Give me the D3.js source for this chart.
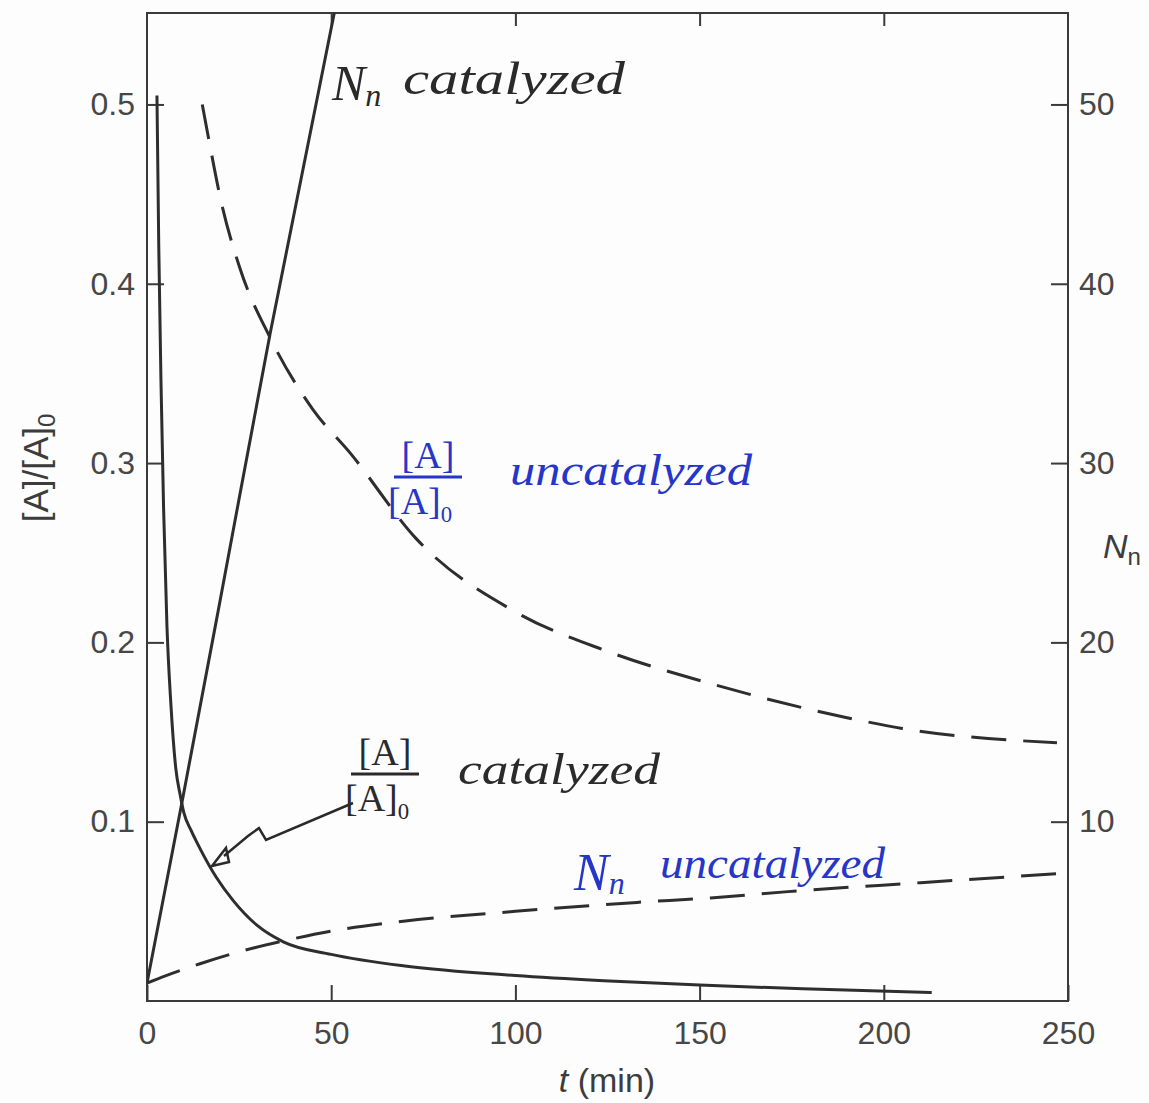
<!DOCTYPE html>
<html>
<head>
<meta charset="utf-8">
<script src="https://cdn.jsdelivr.net/npm/d3@7"></script>
<style>
  html, body { margin: 0; padding: 0; background: #fdfdfd; }
  svg { display: block; }
</style>
</head>
<body>
<svg id="chart" width="1149" height="1103"></svg>
<script>
// ---------- data ----------
// [A]/[A]0, catalyzed (solid, left axis)
const tCatA = [2.7, 3.2, 3.8, 4.5, 5.4, 6.5, 7.8, 9.0, 10, 12, 14.4, 18.8, 23.4, 30, 37, 50, 70, 100, 124, 150, 178, 213];
const aCat  = [0.505, 0.42, 0.345, 0.275, 0.21, 0.165, 0.13, 0.115, 0.105, 0.095, 0.085, 0.069, 0.056, 0.042, 0.033, 0.026, 0.0195, 0.0142, 0.0113, 0.0089, 0.0068, 0.0047];

// [A]/[A]0, uncatalyzed (dashed, left axis)
const tUncA = [15, 17, 20, 25, 33.4, 45, 55.4, 73, 100, 125, 153, 190, 205, 247];
const aUnc  = [0.5, 0.478, 0.447, 0.41, 0.37, 0.33, 0.305, 0.258, 0.217, 0.195, 0.177, 0.158, 0.152, 0.144];

// Nn, catalyzed (solid, right axis)
const tCatN = [0, 9.6, 20, 33.4, 52];
const nCat  = [1, 11.2, 22.5, 37.2, 56.3];

// Nn, uncatalyzed (dashed, right axis)
const tUncN = [0, 5, 14.4, 26, 36, 50, 69.6, 100, 133, 153, 174, 210, 247];
const nUnc  = [1, 1.4, 2.08, 2.8, 3.3, 3.9, 4.45, 5.0, 5.5, 5.75, 6.1, 6.6, 7.1];

// ticks
const xTicks      = [0, 50, 100, 150, 200, 250];
const xTopTicks   = [50, 100, 150, 200];
const yLeftTicks  = [0.1, 0.2, 0.3, 0.4, 0.5];
const yRightTicks = [10, 20, 30, 40, 50];

// ---------- layout ----------
const L = 147, R = 1068, T = 13, B = 1001;
const svg = d3.select("#chart");
const x  = d3.scaleLinear().domain([0, 250]).range([L, R]);
const yL = d3.scaleLinear().domain([0, 0.551]).range([B, T]);
const yR = d3.scaleLinear().domain([0, 55.1]).range([B, T]);

const ink = "#2e2e2e";
const tickColor = "#474747";
const FONT = "'Liberation Sans', Arial, sans-serif";

svg.append("defs").append("clipPath").attr("id", "plotclip")
  .append("rect").attr("x", L).attr("y", T).attr("width", R - L).attr("height", B - T);

// frame
svg.append("rect").attr("x", L).attr("y", T).attr("width", R - L).attr("height", B - T)
  .attr("fill", "none").attr("stroke", "#3a3a3a").attr("stroke-width", 2);

function styleAxis(g) {
  g.select(".domain").remove();
  g.selectAll(".tick line").attr("stroke", "#3a3a3a").attr("stroke-width", 2);
  g.selectAll(".tick text").attr("fill", tickColor).style("font-family", FONT).style("font-size", "32px");
}

svg.append("g").attr("transform", `translate(0,${B})`)
  .call(d3.axisBottom(x).tickValues(xTicks).tickSize(-16).tickPadding(20).tickFormat(d3.format("d")))
  .call(styleAxis);

svg.append("g").attr("transform", `translate(0,${T})`)
  .call(d3.axisTop(x).tickValues(xTopTicks).tickSize(-13).tickFormat(""))
  .call(styleAxis);

svg.append("g").attr("transform", `translate(${L},0)`)
  .call(d3.axisLeft(yL).tickValues(yLeftTicks).tickSize(-17).tickPadding(12).tickFormat(d3.format(".1f")))
  .call(styleAxis);

svg.append("g").attr("transform", `translate(${R},0)`)
  .call(d3.axisRight(yR).tickValues(yRightTicks).tickSize(-17).tickPadding(11).tickFormat(d3.format("d")))
  .call(styleAxis);

// axis titles
const xt = svg.append("text").attr("x", 607).attr("y", 1092).attr("text-anchor", "middle")
  .attr("fill", "#3c3c3c").style("font-family", FONT).style("font-size", "34px");
xt.append("tspan").attr("font-style", "italic").text("t");
xt.append("tspan").text(" (min)");

const yt = svg.append("text").attr("transform", "translate(48,468) rotate(-90)").attr("text-anchor", "middle")
  .attr("fill", "#3c3c3c").style("font-family", FONT).style("font-size", "35px");
yt.append("tspan").text("[A]/[A]");
yt.append("tspan").attr("dy", 7).style("font-size", "24px").text("0");

const rt = svg.append("text").attr("x", 1103).attr("y", 558)
  .attr("fill", "#3c3c3c").style("font-family", FONT).style("font-size", "34px");
rt.append("tspan").attr("font-style", "italic").text("N");
rt.append("tspan").attr("dy", 7).style("font-size", "24px").text("n");

// ---------- curves ----------
const plot = svg.append("g").attr("clip-path", "url(#plotclip)");
function draw(ts, vs, scale, dashed) {
  const pts = ts.map((t, i) => [t, vs[i]]);
  const line = d3.line().x(d => x(d[0])).y(d => scale(d[1])).curve(d3.curveMonotoneX);
  plot.append("path").datum(pts).attr("d", line)
    .attr("fill", "none").attr("stroke", ink).attr("stroke-width", 3)
    .attr("stroke-linejoin", "round")
    .attr("stroke-dasharray", dashed ? "35,17" : null);
}
draw(tCatA, aCat, yL, false);
draw(tCatN, nCat, yR, false);
draw(tUncA, aUnc, yL, true);
draw(tUncN, nUnc, yR, true);

// ---------- handwritten annotations ----------
const HAND = "'Liberation Serif', serif";
const blue = "#2536c8";
const black = "#2a2a2a";

// "Nn catalyzed" (black, top)
const a1 = svg.append("text").attr("x", 332).attr("y", 100).attr("fill", black)
  .style("font-family", HAND).style("font-style", "italic").style("font-size", "50px");
a1.append("tspan").text("N");
a1.append("tspan").attr("dy", 6).style("font-size", "32px").text("n");
svg.append("text").attr("x", 403).attr("y", 94).attr("fill", black)
  .style("font-family", HAND).style("font-style", "italic").style("font-size", "46px")
  .attr("textLength", 222).attr("lengthAdjust", "spacingAndGlyphs").text("catalyzed");

// fraction helper
function fraction(cx, yTop, color, size) {
  const g = svg.append("g").attr("fill", color).style("font-family", HAND).style("font-size", size + "px");
  g.append("text").attr("x", cx).attr("y", yTop).attr("text-anchor", "middle").text("[A]");
  g.append("line").attr("x1", cx - 34).attr("x2", cx + 34).attr("y1", yTop + 9).attr("y2", yTop + 9)
    .attr("stroke", color).attr("stroke-width", 3);
  const b = g.append("text").attr("x", cx - 40).attr("y", yTop + 46);
  b.append("tspan").text("[A]");
  b.append("tspan").attr("dy", 8).style("font-size", (size * 0.6) + "px").text("0");
}

// [A]/[A]0 uncatalyzed (blue)
fraction(428, 468, blue, 38);
svg.append("text").attr("x", 510).attr("y", 485).attr("fill", blue)
  .style("font-family", HAND).style("font-style", "italic").style("font-size", "44px")
  .attr("textLength", 242).attr("lengthAdjust", "spacingAndGlyphs").text("uncatalyzed");

// [A]/[A]0 catalyzed (black)
fraction(385, 765, black, 38);
svg.append("text").attr("x", 458).attr("y", 784).attr("fill", black)
  .style("font-family", HAND).style("font-style", "italic").style("font-size", "44px")
  .attr("textLength", 202).attr("lengthAdjust", "spacingAndGlyphs").text("catalyzed");

// arrow to the catalyzed curve
svg.append("path").attr("d", "M353,803 L266,840 L259,828 L248,836 L224,856")
  .attr("fill", "none").attr("stroke", black).attr("stroke-width", 2.5);
svg.append("path").attr("d", "M212,866 L226,848 L229,862 Z")
  .attr("fill", "none").attr("stroke", black).attr("stroke-width", 2.5);

// Nn uncatalyzed (blue)
const a4 = svg.append("text").attr("x", 574).attr("y", 890).attr("fill", blue)
  .style("font-family", HAND).style("font-style", "italic").style("font-size", "52px");
a4.append("tspan").text("N");
a4.append("tspan").attr("dy", 4).style("font-size", "32px").text("n");
svg.append("text").attr("x", 660).attr("y", 878).attr("fill", blue)
  .style("font-family", HAND).style("font-style", "italic").style("font-size", "44px")
  .attr("textLength", 225).attr("lengthAdjust", "spacingAndGlyphs").text("uncatalyzed");
</script>
</body>
</html>
